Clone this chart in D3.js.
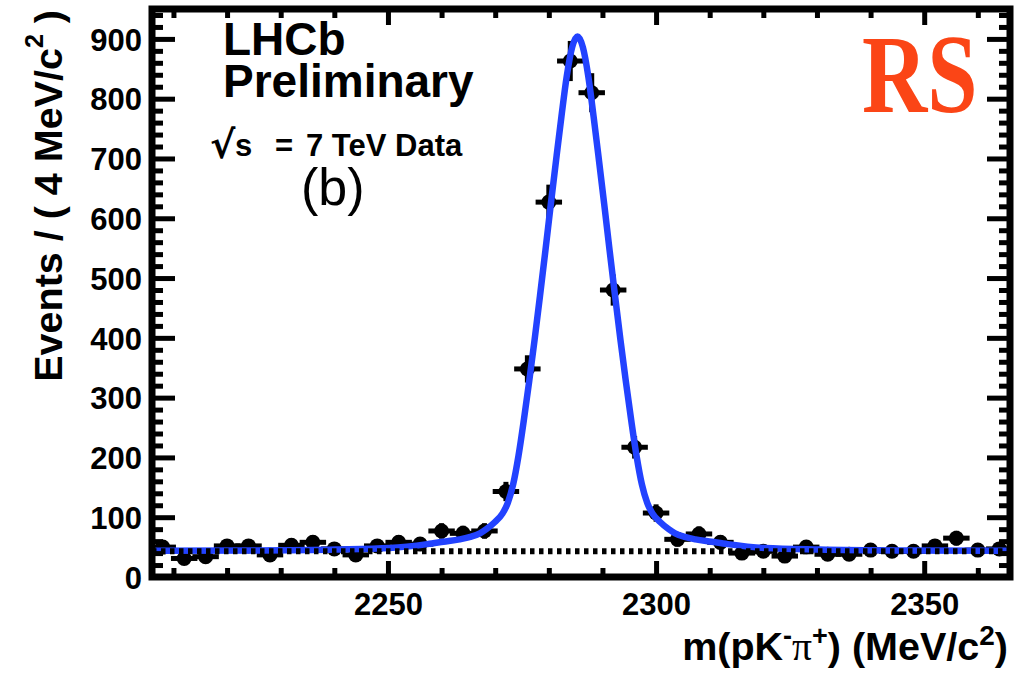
<!DOCTYPE html>
<html>
<head>
<meta charset="utf-8">
<script src="https://cdn.jsdelivr.net/npm/d3@7"></script>
<style>
  html, body { margin: 0; padding: 0; background: #fff; }
  svg { display: block; }
  text { fill: #000; }
</style>
</head>
<body>
<svg id="chart" width="1026" height="673"></svg>
<script>
// Bin centres of the m(pK-pi+) histogram (4 MeV/c^2 bins)
const binCenters = [2208, 2212, 2216, 2220, 2224, 2228, 2232, 2236, 2240, 2244,
                    2248, 2252, 2256, 2260, 2264, 2268, 2272, 2276, 2280, 2284,
                    2288, 2292, 2296, 2300, 2304, 2308, 2312, 2316, 2320, 2324,
                    2328, 2332, 2336, 2340, 2344, 2348, 2352, 2356, 2360, 2364];
// Events per bin
const binCounts = [50, 31, 34, 52, 52, 37, 53, 58, 47, 37,
                   52, 58, 55, 77, 73, 77, 143, 348, 627, 863,
                   810, 480, 217, 107, 63, 72, 58, 40, 43, 35,
                   50, 38, 38, 45, 43, 43, 52, 65, 45, 47];
const binWidth = 4;

// Fitted total PDF (signal + background), sampled along the mass axis
const fitMass = [2206, 2225.35, 2240.35, 2250.35, 2257.35, 2260.35, 2263.35, 2265.35, 2267.15, 2268.35,
                 2269.95, 2271.35, 2272.35, 2273.35, 2274.35, 2275.35, 2276.35, 2277.35, 2278.35, 2279.35,
                 2280.35, 2281.35, 2282.35, 2283.35, 2284.35, 2285.35, 2286.35, 2287.35, 2288.35, 2289.35,
                 2290.35, 2291.35, 2292.35, 2293.35, 2294.35, 2295.35, 2296.35, 2297.35, 2298.35, 2299.35,
                 2300.75, 2302.35, 2303.55, 2305.35, 2307.35, 2310.35, 2313.35, 2320.35, 2330.35, 2345.35, 2366];
const fitValue = [44, 44.5, 46, 48.5, 55, 59, 63, 67, 73, 80,
                  92, 106, 124, 155, 203, 263, 328, 397, 470, 545,
                  622, 697, 770, 838, 886, 904, 886, 838, 770, 697,
                  622, 545, 470, 397, 328, 263, 203, 155, 124, 106,
                  92, 80, 73, 67, 63, 59, 55, 48.5, 46, 44.5, 44];
// Background component (flat)
const bkgMass = [2206, 2366];
const bkgValue = [43, 43];

// Axis ticks
const xMajorTicks = [2250, 2300, 2350];
const xMinorTicks = [2210, 2220, 2230, 2240, 2260, 2270, 2280, 2290, 2310, 2320, 2330, 2340, 2360];
const yMajorTicks = [0, 100, 200, 300, 400, 500, 600, 700, 800, 900];
const yMinorTicks = [20, 40, 60, 80, 120, 140, 160, 180, 220, 240, 260, 280, 320, 340, 360, 380,
                     420, 440, 460, 480, 520, 540, 560, 580, 620, 640, 660, 680, 720, 740, 760, 780,
                     820, 840, 860, 880, 920, 940];

const SANS = "'Liberation Sans', Arial, Helvetica, sans-serif";
const SERIF = "'Liberation Serif', 'Times New Roman', serif";

const svg = d3.select("#chart");
const L = 152, R = 1010, T = 9, B = 577;

const x = d3.scaleLinear().domain([2206, 2366]).range([L, R]);
const y = d3.scaleLinear().domain([0, 950]).range([B, T]);

svg.append("rect").attr("width", 1026).attr("height", 673).attr("fill", "#fff");

svg.append("clipPath").attr("id", "plotClip")
  .append("rect").attr("x", L).attr("y", T).attr("width", R - L).attr("height", B - T);

const plot = svg.append("g").attr("clip-path", "url(#plotClip)");

// Data points with error bars
const pts = binCenters.map((m, i) => ({ m, n: binCounts[i] }));
const dataG = plot.append("g");
dataG.selectAll("line.xerr").data(pts).join("line")
  .attr("x1", d => x(d.m - binWidth / 2)).attr("x2", d => x(d.m + binWidth / 2))
  .attr("y1", d => y(d.n)).attr("y2", d => y(d.n))
  .attr("stroke", "#000").attr("stroke-width", 5).attr("stroke-linecap", "square");
dataG.selectAll("line.yerr").data(pts).join("line")
  .attr("x1", d => x(d.m)).attr("x2", d => x(d.m))
  .attr("y1", d => y(d.n - Math.sqrt(d.n))).attr("y2", d => y(d.n + Math.sqrt(d.n)))
  .attr("stroke", "#000").attr("stroke-width", 5).attr("stroke-linecap", "square");
dataG.selectAll("circle").data(pts).join("circle")
  .attr("cx", d => x(d.m)).attr("cy", d => y(d.n)).attr("r", 7.5).attr("fill", "#000");

// Fit curve
const fitLine = d3.line().x(d => x(d[0])).y(d => y(d[1])).curve(d3.curveMonotoneX);
plot.append("path")
  .attr("d", fitLine(fitMass.map((m, i) => [m, fitValue[i]])))
  .attr("fill", "none").attr("stroke", "#2242ff").attr("stroke-width", 6.5);

// Background component
plot.append("path")
  .attr("d", d3.line().x(d => x(d[0])).y(d => y(d[1]))(bkgMass.map((m, i) => [m, bkgValue[i]])))
  .attr("fill", "none").attr("stroke", "#000").attr("stroke-width", 6)
  .attr("stroke-dasharray", "4.5 4.5");

// Axes (ticks pointing inward on all four sides)
function styleAxis(g) {
  g.select(".domain").remove();
  g.selectAll(".tick line").attr("stroke", "#000").attr("stroke-width", 5);
}
function axisLayer(axis, tx, ty, values, size, labels) {
  const g = svg.append("g").attr("transform", `translate(${tx},${ty})`)
    .call(axis.tickValues(values).tickSizeInner(size).tickSizeOuter(0)
      .tickFormat(labels ? d3.format("d") : () => ""));
  styleAxis(g);
  return g;
}
const xb = axisLayer(d3.axisBottom(x), 0, B, xMajorTicks, -16, true);
xb.selectAll("text").attr("y", 38).attr("dy", 0)
  .style("font-size", "31px").style("font-weight", "bold")
  .style("font-family", SANS).style("fill", "#000");
axisLayer(d3.axisBottom(x), 0, B, xMinorTicks, -9, false);
axisLayer(d3.axisTop(x), 0, T, xMajorTicks, -16, false);
axisLayer(d3.axisTop(x), 0, T, xMinorTicks, -9, false);

const yl = axisLayer(d3.axisLeft(y), L, 0, yMajorTicks, -23, true);
yl.selectAll("text").attr("x", -10).attr("dy", "0.36em")
  .style("font-size", "31px").style("font-weight", "bold")
  .style("font-family", SANS).style("fill", "#000");
axisLayer(d3.axisLeft(y), L, 0, yMinorTicks, -11, false);
axisLayer(d3.axisRight(y), R, 0, yMajorTicks, -23, false);
axisLayer(d3.axisRight(y), R, 0, yMinorTicks, -11, false);

// Frame
svg.append("rect").attr("x", L).attr("y", T).attr("width", R - L).attr("height", B - T)
  .attr("fill", "none").attr("stroke", "#000").attr("stroke-width", 7);

// Axis titles
const xt = svg.append("text").attr("x", 1008).attr("y", 660)
  .attr("text-anchor", "end")
  .style("font-family", SANS).style("font-size", "39.5px").style("font-weight", "bold");
xt.append("tspan").text("m(pK");
xt.append("tspan").attr("dy", -15).style("font-size", "27px").text("-");
xt.append("tspan").attr("dy", 15).style("font-family", SERIF)
  .style("font-weight", "normal").text("π");
xt.append("tspan").attr("dy", -15).style("font-size", "27px").text("+");
xt.append("tspan").attr("dy", 15).text(") (MeV/c");
xt.append("tspan").attr("dy", -15).style("font-size", "28px").text("2");
xt.append("tspan").attr("dy", 15).text(")");

const yt = svg.append("text").attr("transform", "translate(62,10) rotate(-90)")
  .attr("text-anchor", "end")
  .style("font-family", SANS).style("font-size", "39.5px").style("font-weight", "bold");
yt.append("tspan").text("Events / ( 4 MeV/c");
yt.append("tspan").attr("dy", -19).style("font-size", "25px").text("2");
yt.append("tspan").attr("dy", 19).text(" )");

// Labels inside the frame
const title = svg.append("text").attr("x", 223).attr("y", 55)
  .style("font-family", SANS).style("font-size", "46px").style("font-weight", "bold");
title.append("tspan").attr("x", 223).attr("y", 55).text("LHCb");
title.append("tspan").attr("x", 223).attr("y", 97).text("Preliminary");

const energy = svg.append("text").attr("x", 212).attr("y", 156)
  .style("font-family", SANS).style("font-size", "31px").style("font-weight", "bold");
energy.append("tspan").attr("x", 210).attr("y", 158)
  .style("font-family", "'DejaVu Sans', sans-serif").style("font-size", "38px").text("√");
energy.append("tspan").attr("x", 235).attr("y", 156).text("s");
energy.append("tspan").attr("x", 275).attr("y", 156).text("=");
energy.append("tspan").attr("x", 306).attr("y", 156).text("7 TeV Data");

svg.append("text").attr("x", 301).attr("y", 205)
  .style("font-family", SANS).style("font-size", "52px").text("(b)");

svg.append("text").attr("transform", "translate(862,112) scale(0.8,1)")
  .style("font-family", SERIF).style("font-weight", "bold")
  .style("font-size", "113px").style("fill", "#fb4516").text("RS");
</script>
</body>
</html>
